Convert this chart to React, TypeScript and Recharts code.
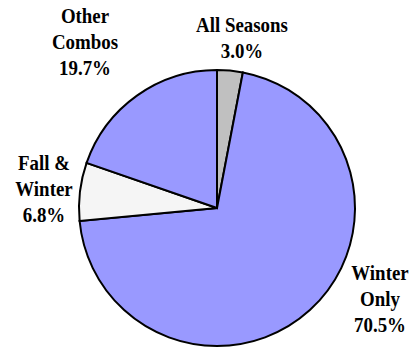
import React from 'react';
import { PieChart, Pie, Cell } from 'recharts';

// slices, clockwise from 12 o'clock
const categories = ['All Seasons', 'Winter Only', 'Fall & Winter', 'Other Combos'];
const shares = [3.0, 70.5, 6.8, 19.7];
const labelLines = [['All Seasons'], ['Winter', 'Only'], ['Fall &', 'Winter'], ['Other', 'Combos']];
const sliceColors = ['#C0C0C0', '#9999FF', '#F5F5F5', '#9999FF'];

// where each label's first baseline sits, relative to the pie centre
const labelOffsets = [
  { dx: 25, dy: -176 },
  { dx: 163, dy: 72 },
  { dx: -173, dy: -38 },
  { dx: -132, dy: -185 },
];

const chartData = categories.map((name, i) => ({ name, value: shares[i] }));

const W = 410;
const H = 348;
const CX = 217;
const CY = 208;
const LINE_H = 26;

const labelFont: React.CSSProperties = {
  fontFamily: "'Liberation Serif', 'Times New Roman', serif",
  fontWeight: 700,
  fontSize: 21,
};

export default function App() {
  return (
    <div style={{ position: 'fixed', left: 0, top: 0, width: W, height: H, background: '#fff' }}>
      <PieChart width={W} height={H} margin={{ top: 0, right: 0, bottom: 0, left: 0 }}>
        <Pie
          data={chartData}
          dataKey="value"
          nameKey="name"
          cx={CX}
          cy={CY}
          outerRadius={138}
          startAngle={90}
          endAngle={-270}
          stroke="#000"
          strokeWidth={2}
          label={false}
          labelLine={false}
          isAnimationActive={false}
        >
          {chartData.map((entry, i) => (
            <Cell key={`slice-${entry.name}`} fill={sliceColors[i]} />
          ))}
        </Pie>
      </PieChart>

      {/* slice labels */}
      <svg width={W} height={H} style={{ position: 'absolute', left: 0, top: 0, pointerEvents: 'none' }}>
        {chartData.map((d, idx) => {
          const off = labelOffsets[idx];
          const lines = [...labelLines[idx], `${d.value.toFixed(1)}%`];
          return (
            <text
              key={`lbl-${d.name}`}
              transform={`translate(${CX + off.dx},${CY + off.dy}) scale(0.9,1)`}
              textAnchor="middle"
              fill="#000"
              style={labelFont}
            >
              {lines.map((line, i) => (
                <tspan key={`ln-${i}`} x={0} y={i * LINE_H}>
                  {line}
                </tspan>
              ))}
            </text>
          );
        })}
      </svg>
    </div>
  );
}
